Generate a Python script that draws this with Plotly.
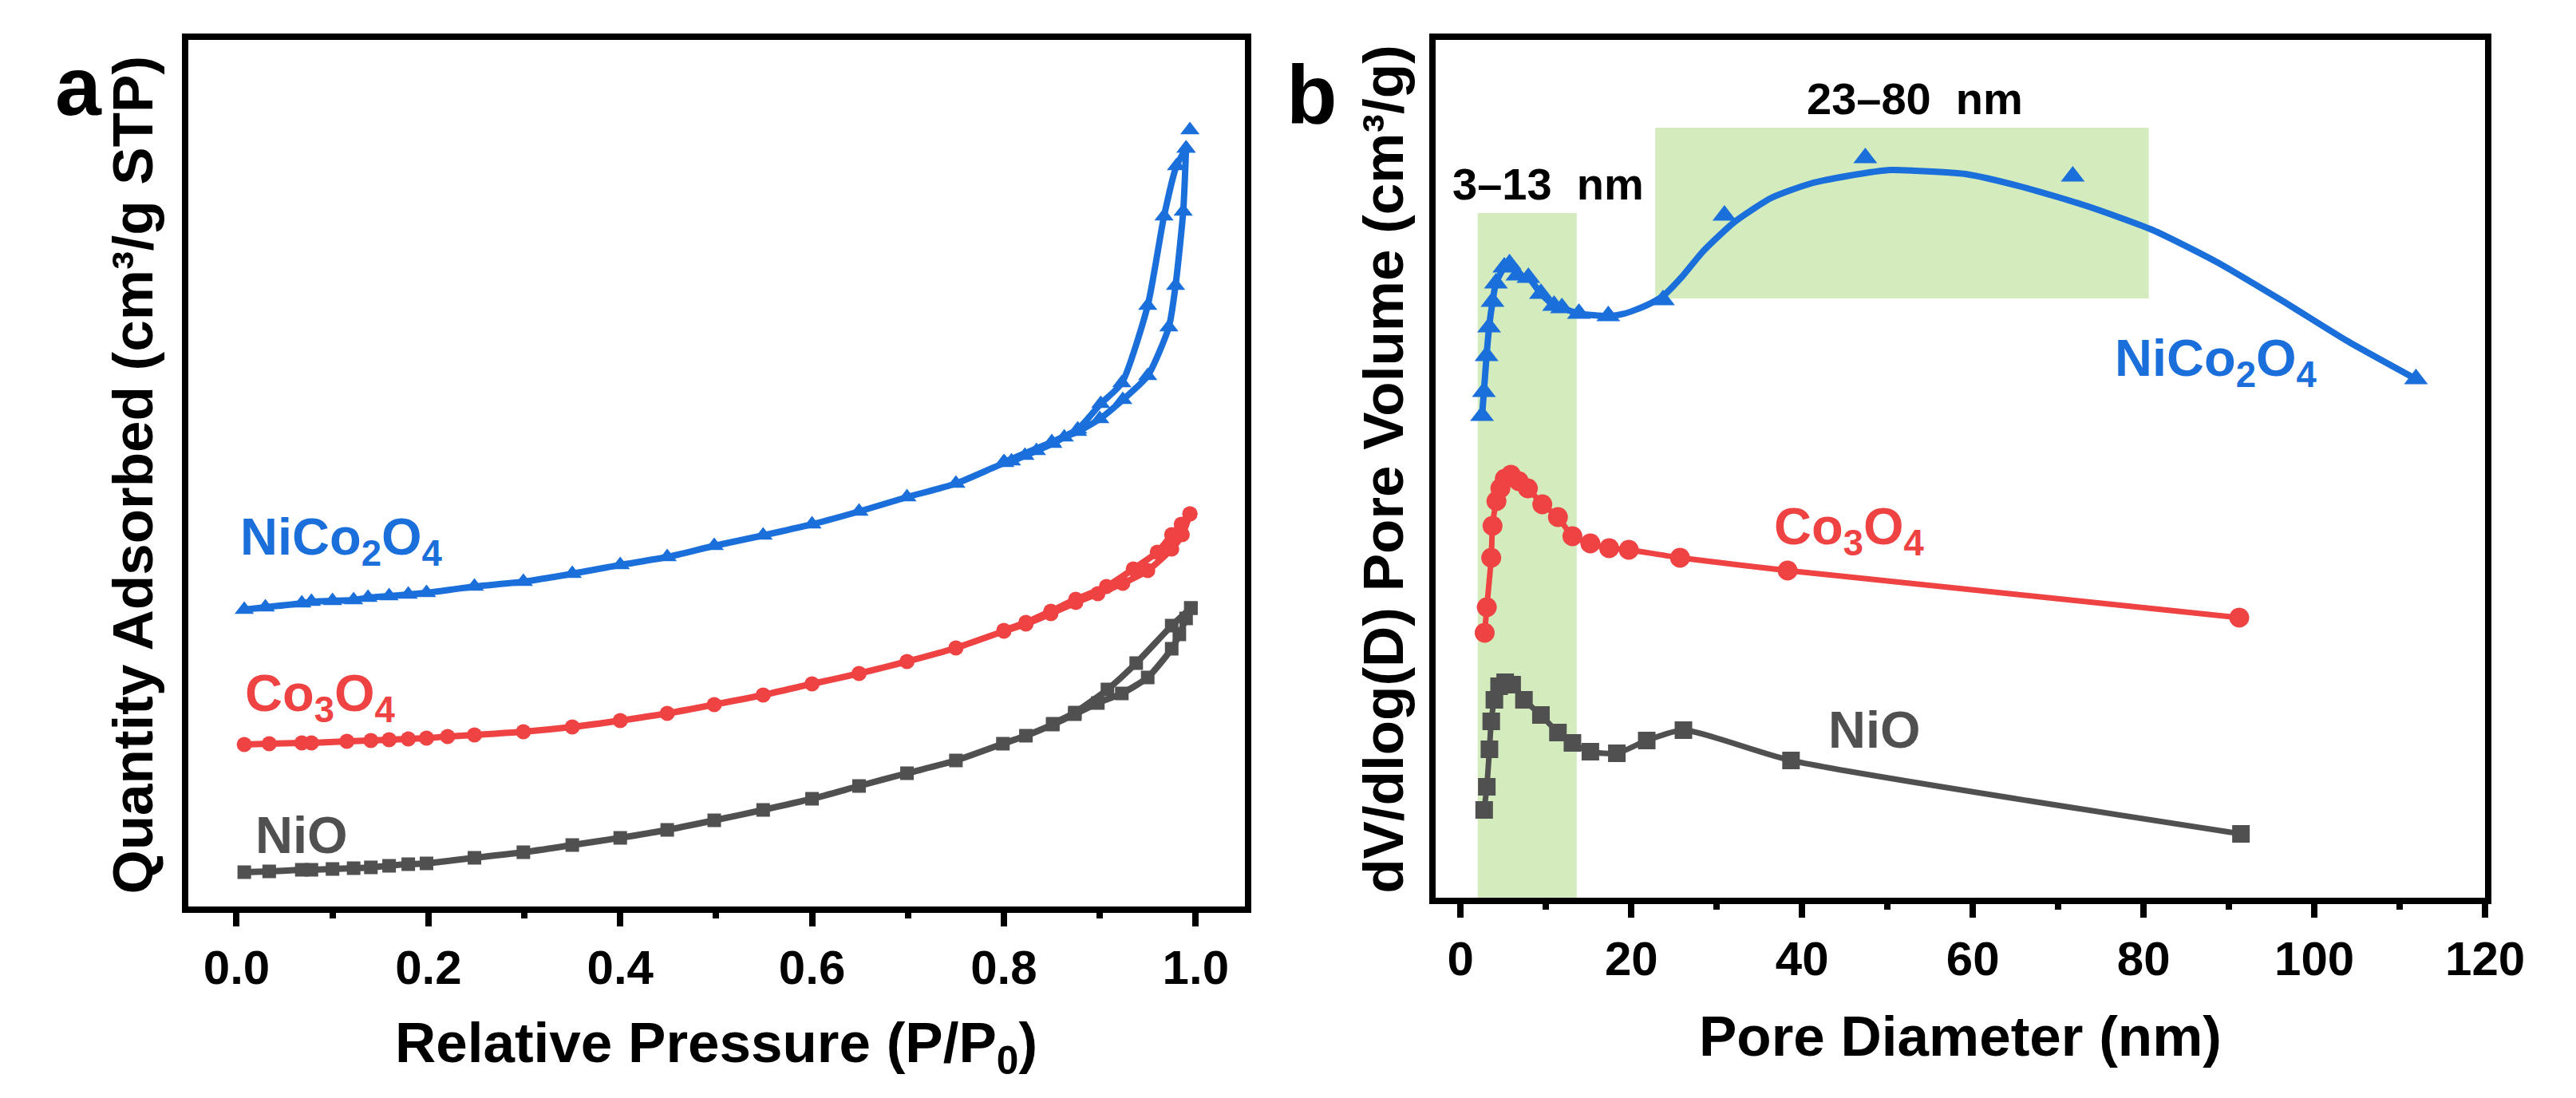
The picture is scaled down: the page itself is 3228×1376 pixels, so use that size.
import plotly.graph_objects as go

W, H = 3228, 1376
FONT = "Liberation Sans, Arial, sans-serif"
BLUE = "#1a6fdb"
RED = "#ef4242"
GREY = "#505050"
GREEN = "#d3ebbd"

# ---- panel a: N2 isotherms (relative pressure vs quantity adsorbed, a.u.) ----
nico_ads_p = [0.008, 0.03, 0.068, 0.078, 0.10, 0.122, 0.137, 0.159, 0.179, 0.198, 0.248, 0.299,
              0.35, 0.40, 0.449, 0.498, 0.549, 0.60, 0.649, 0.699, 0.75, 0.801, 0.808, 0.822,
              0.834, 0.851, 0.863, 0.877, 0.900, 0.924, 0.950, 0.972, 0.979, 0.987, 0.990]
nico_ads_q = [372, 375, 380, 382, 383, 384, 387, 389, 391, 393, 401, 407,
              417, 428, 438, 452, 465, 479, 495, 513, 530, 556, 558, 565,
              571, 580, 588, 595, 611, 635, 665, 726, 778, 871, 950]
nico_des_p = [0.990, 0.980, 0.967, 0.950, 0.923, 0.901, 0.877, 0.850, 0.800]
nico_des_q = [950, 928, 865, 753, 656, 630, 598, 582, 557]
nico_top_p = [0.994]
nico_top_q = [973]

co_ads_p = [0.008, 0.034, 0.068, 0.078, 0.115, 0.14, 0.159, 0.179, 0.198, 0.22, 0.248, 0.299,
            0.35, 0.40, 0.449, 0.498, 0.549, 0.60, 0.649, 0.699, 0.75, 0.80, 0.823, 0.849,
            0.875, 0.898, 0.924, 0.950, 0.975, 0.986, 0.994]
co_ads_q = [203, 204, 205, 205, 207, 208, 209, 210, 211, 213, 215, 219,
            225, 233, 242, 253, 265, 279, 292, 307, 324, 345, 354, 367,
            381, 392, 405, 421, 448, 466, 492]
co_des_p = [0.994, 0.985, 0.975, 0.960, 0.935, 0.907, 0.875, 0.849, 0.823, 0.80]
co_des_q = [492, 479, 466, 444, 423, 401, 385, 370, 356, 346]

nio_ads_p = [0.008, 0.034, 0.068, 0.078, 0.10, 0.122, 0.14, 0.159, 0.179, 0.198, 0.248, 0.299,
             0.35, 0.40, 0.449, 0.498, 0.549, 0.60, 0.649, 0.699, 0.75, 0.799, 0.823, 0.851,
             0.874, 0.898, 0.923, 0.950, 0.975, 0.983, 0.990, 0.995]
nio_ads_q = [43, 44, 46, 46, 47, 48, 49, 51, 53, 54, 61, 68,
             77, 86, 96, 108, 121, 135, 151, 167, 183, 204, 214, 228,
             241, 255, 267, 287, 323, 341, 361, 374]
nio_des_p = [0.995, 0.975, 0.938, 0.908, 0.874, 0.851]
nio_des_q = [374, 352, 305, 272, 243, 229]

# ---- panel b: pore size distribution (nm vs dV/dlogD, a.u.) ----
nico_d = [2.51, 2.73, 3.04, 3.34, 3.74, 4.14, 5.12, 5.73, 6.65, 7.94, 9.41, 10.95, 11.87, 13.86,
          17.3, 23.7, 30.9, 47.4, 71.7, 111.9]
nico_dv = [604, 634, 679, 715, 747, 770, 790, 794, 780, 777, 757, 742, 739, 732,
           729, 749, 855, 927, 904, 650]
# smoothed curve drawn through the large pores
nico_curve_d = [17.3, 19.2, 21.7, 23.7, 26.0, 28.4, 32.1, 36.4, 41.0, 45.6, 50.4, 53.3, 59.1,
                65.7, 73.3, 81.0, 88.5, 96.1, 103.8, 111.9]
nico_curve_dv = [729, 732, 742, 754, 779, 810, 847, 877, 895, 905, 912, 911, 907,
                 891, 867, 837, 797, 749, 698, 650]

co_d = [2.82, 3.07, 3.59, 3.74, 4.2, 4.66, 5.18, 5.89, 6.81, 7.88, 9.57, 11.4, 13.1, 15.2,
        17.4, 19.7, 25.7, 38.3, 91.2]
co_dv = [332, 364, 426, 466, 497, 513, 525, 530, 522, 513, 493, 477, 453, 444,
         438, 436, 426, 410, 351]

nio_d = [2.76, 3.07, 3.38, 3.59, 3.96, 4.51, 5.22, 6.04, 7.42, 9.41, 11.4, 13.1, 15.2, 18.3,
         21.8, 26.1, 38.7, 91.4]
nio_dv = [110, 139, 186, 221, 248, 265, 270, 267, 248, 229, 207, 194, 183, 181,
          197, 210, 172, 80]

range_1 = [2.0, 13.6, 0, 858]
range_2 = [22.8, 80.6, 751, 965]

fig = go.Figure()


def add_series(x, y, color, symbol, msize, lw, xa, ya, mode="lines+markers"):
    fig.add_trace(go.Scatter(
        x=x, y=y, mode=mode, xaxis=xa, yaxis=ya, showlegend=False,
        line=dict(color=color, width=lw, shape="spline", smoothing=0.6),
        marker=dict(color=color, symbol=symbol, size=msize, line=dict(width=0)),
    ))


# panel a
add_series(nio_ads_p, nio_ads_q, GREY, "square", 17, 8, "x", "y")
add_series(nio_des_p, nio_des_q, GREY, "square", 17, 8, "x", "y")
add_series(co_ads_p, co_ads_q, RED, "circle", 19, 8, "x", "y")
add_series(co_des_p, co_des_q, RED, "circle", 19, 8, "x", "y")
add_series(nico_ads_p, nico_ads_q, BLUE, "triangle-up", 21, 8, "x", "y")
add_series(nico_des_p, nico_des_q, BLUE, "triangle-up", 21, 8, "x", "y")
add_series(nico_top_p, nico_top_q, BLUE, "triangle-up", 21, 8, "x", "y", mode="markers")

# panel b
add_series(nio_d, nio_dv, GREY, "square", 22, 7, "x2", "y2")
add_series(co_d, co_dv, RED, "circle", 25, 7, "x2", "y2")
add_series(nico_d[:14] + nico_curve_d, nico_dv[:14] + nico_curve_dv, BLUE, "triangle-up", 1, 8,
           "x2", "y2", mode="lines")
add_series(nico_d, nico_dv, BLUE, "triangle-up", 26, 8, "x2", "y2", mode="markers")

for r in (range_1, range_2):
    fig.add_shape(type="rect", xref="x2", yref="y2", x0=r[0], x1=r[1], y0=r[2], y1=r[3],
                  fillcolor=GREEN, line=dict(width=0), layer="below")

axis_common = dict(showline=True, linewidth=8, linecolor="black", mirror=True,
                   showgrid=False, zeroline=False)
tick_font = dict(family=FONT, size=60, color="black", weight="bold")

fig.update_layout(
    width=W, height=H, margin=dict(l=0, r=0, t=0, b=0),
    paper_bgcolor="white", plot_bgcolor="white",
    xaxis=dict(domain=[232 / W, 1576 / W], range=[-0.05, 1.051], anchor="y",
               tick0=0, dtick=0.2, tickformat=".1f", ticks="outside", ticklen=17, tickwidth=8,
               tickcolor="black", tickfont=tick_font,
               minor=dict(ticks="outside", dtick=0.1, ticklen=7, tickwidth=8, tickcolor="black"),
               **axis_common),
    yaxis=dict(domain=[1 - 1128 / H, 1 - 42 / H], range=[0, 1086], anchor="x",
               showticklabels=False, ticks="", **axis_common),
    xaxis2=dict(domain=[1819 / W, 3155 / W], range=[-2.94, 120], anchor="y2",
                tick0=0, dtick=20, ticks="outside", ticklen=17, tickwidth=8,
                tickcolor="black", tickfont=tick_font,
                minor=dict(ticks="outside", dtick=10, ticklen=7, tickwidth=8, tickcolor="black"),
                **axis_common),
    yaxis2=dict(domain=[1 - 1117 / H, 1 - 42 / H], range=[0, 1075], anchor="x2",
                showticklabels=False, ticks="", **axis_common),
)


def note(text, x, y, color="black", size=65, xref="paper", yref="paper",
         xanchor="center", yanchor="middle", angle=0):
    fig.add_annotation(text=text, x=x, y=y, xref=xref, yref=yref, xanchor=xanchor,
                       yanchor=yanchor, textangle=angle, showarrow=False,
                       font=dict(family=FONT, size=size, color=color, weight="bold"))


# axis titles
note("Relative Pressure (P/P<sub>0</sub>)", 904 / W, 1 - 1304 / H, size=71)
note("Pore Diameter (nm)", 2487 / W, 1 - 1290 / H, size=71)
note("Quantity Adsorbed (cm³/g STP)", 160 / W, 1 - 587 / H, size=71, angle=-90)
note("dV/dlog(D) Pore Volume (cm³/g)", 1752 / W, 1 - 580 / H, size=71, angle=-90)

# panel letters
note("a", 92 / W, 1 - 100 / H, size=104)
note("b", 1662 / W, 1 - 110 / H, size=104)

# series labels, panel a
note("NiCo<sub>2</sub>O<sub>4</sub>", 0.002, 458, BLUE, 65, "x", "y", xanchor="left")
note("Co<sub>3</sub>O<sub>4</sub>", 0.007, 262, RED, 65, "x", "y", xanchor="left")
note("NiO", 0.018, 90, GREY, 65, "x", "y", xanchor="left")

# series labels, panel b
note("NiCo<sub>2</sub>O<sub>4</sub>", 76.4, 671, BLUE, 65, "x2", "y2", xanchor="left")
note("Co<sub>3</sub>O<sub>4</sub>", 36.5, 460, RED, 65, "x2", "y2", xanchor="left")
note("NiO", 42.9, 210, GREY, 65, "x2", "y2", xanchor="left")
note("3–13  nm", 10.26, 894, "black", 56, "x2", "y2")
note("23–80  nm", 53.2, 1001, "black", 56, "x2", "y2")

fig.write_html("out.html")
